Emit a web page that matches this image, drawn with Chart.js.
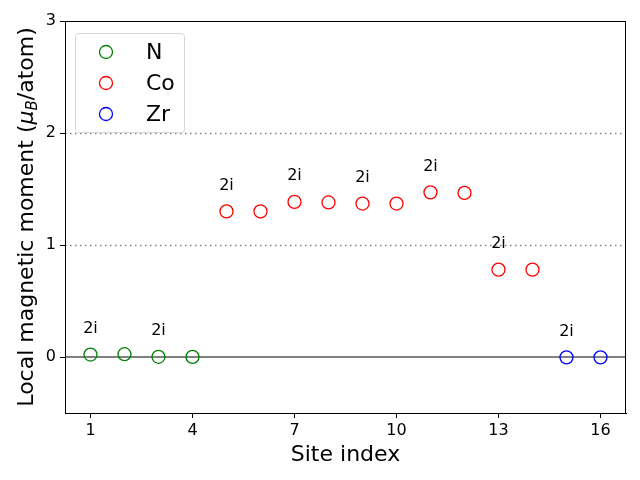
<!DOCTYPE html>
<html><head><meta charset="utf-8">
<script src="https://cdn.jsdelivr.net/npm/chart.js@4/dist/chart.umd.min.js"></script>
<style>html,body{margin:0;padding:0;background:#fff}canvas{display:block}</style>
</head><body>
<canvas id="c" width="640" height="480"></canvas>
<script>
// ---- data ----
const nSites = [1, 2, 3, 4];
const nMoments = [0.022, 0.025, 0.002, 0.001];
const coSites = [5, 6, 7, 8, 9, 10, 11, 12, 13, 14];
const coMoments = [1.30, 1.30, 1.385, 1.38, 1.37, 1.37, 1.47, 1.465, 0.78, 0.78];
const zrSites = [15, 16];
const zrMoments = [-0.003, -0.003];
const xTicks = [1, 4, 7, 10, 13, 16];
const yTicks = [0, 1, 2, 3];
const labelSites = [1, 3, 5, 7, 9, 11, 13, 15];
const labelText = '2i';
const dottedLines = [1, 2];
const solidLines = [0];

const FONT = '"DejaVu Sans", sans-serif';
const allSites = nSites.concat(coSites, zrSites);
const allMoments = nMoments.concat(coMoments, zrMoments);
const toPts = (xs, ys) => xs.map((x, i) => ({x: x, y: ys[i]}));

function ds(label, xs, ys, color) {
  return {label, data: toPts(xs, ys), borderColor: color, backgroundColor: 'rgba(0,0,0,0)',
    pointStyle: 'circle', pointRadius: 6.5, pointHoverRadius: 6.5, pointBorderWidth: 1.3, showLine: false};
}

const decor = {
  id: 'decor',
  beforeDatasetsDraw(chart) {
    const {ctx, chartArea: a, scales: {x, y}} = chart;
    ctx.save();
    ctx.strokeStyle = '#808080';
    ctx.lineWidth = 1.5;
    ctx.setLineDash([1.5, 3.5]);
    dottedLines.forEach(v => {
      const py = Math.round(y.getPixelForValue(v)) + 0.5;
      ctx.beginPath(); ctx.moveTo(a.left, py); ctx.lineTo(a.right, py); ctx.stroke();
    });
    ctx.setLineDash([]);
    ctx.lineWidth = 2;
    solidLines.forEach(v => {
      const py = y.getPixelForValue(v);
      ctx.beginPath(); ctx.moveTo(a.left, py); ctx.lineTo(a.right, py); ctx.stroke();
    });
    ctx.restore();
  },
  afterDraw(chart) {
    const {ctx, chartArea: a, scales: {x, y}} = chart;
    ctx.save();
    // frame
    ctx.strokeStyle = '#000'; ctx.lineWidth = 1;
    ctx.strokeRect(a.left + 0.5, a.top + 0.5, a.right - a.left - 1, a.bottom - a.top);
    // annotations
    ctx.fillStyle = '#000';
    ctx.font = '16px ' + FONT;
    ctx.textAlign = 'center'; ctx.textBaseline = 'middle';
    labelSites.forEach(s => {
      const v = allMoments[allSites.indexOf(s)];
      ctx.fillText(labelText, x.getPixelForValue(s), y.getPixelForValue(v + 0.23));
    });
    // x title
    ctx.font = '22px ' + FONT;
    ctx.textBaseline = 'alphabetic';
    ctx.fillText('Site index', (a.left + a.right) / 2, 461);
    // y title with subscript
    ctx.translate(33, (a.top + a.bottom) / 2);
    ctx.rotate(-Math.PI / 2);
    const parts = [
      {t: 'Local magnetic moment (', f: '22px ' + FONT, dy: 0},
      {t: 'μ', f: 'italic 22px ' + FONT, dy: 0},
      {t: 'B', f: 'italic 15px ' + FONT, dy: 4},
      {t: '/atom)', f: '22px ' + FONT, dy: 0}
    ];
    let total = 0;
    parts.forEach(p => { ctx.font = p.f; p.w = ctx.measureText(p.t).width; total += p.w; });
    let cx = -total / 2;
    ctx.textAlign = 'left';
    parts.forEach(p => { ctx.font = p.f; ctx.fillText(p.t, cx, p.dy); cx += p.w; });
    ctx.restore();
    // legend
    ctx.save();
    const lx = a.left + 10, ly = a.top + 12, lw = 109, lh = 99;
    ctx.fillStyle = 'rgba(255,255,255,0.8)';
    ctx.strokeStyle = '#d6d6d6'; ctx.lineWidth = 1;
    ctx.beginPath();
    ctx.roundRect(lx + 0.5, ly + 0.5, lw, lh, 3);
    ctx.fill(); ctx.stroke();
    ctx.font = '22px ' + FONT; ctx.textBaseline = 'middle'; ctx.textAlign = 'left';
    chart.data.datasets.forEach((d, i) => {
      const ry = ly + 19 + i * 31;
      ctx.strokeStyle = d.borderColor; ctx.lineWidth = 1.3;
      ctx.beginPath(); ctx.arc(lx + 31, ry, 6.5, 0, Math.PI * 2); ctx.stroke();
      ctx.fillStyle = '#000';
      ctx.fillText(d.label, lx + 71, ry + 1);
    });
    ctx.restore();
  }
};

new Chart(document.getElementById('c'), {
  type: 'scatter',
  data: {datasets: [
    ds('N', nSites, nMoments, '#008000'),
    ds('Co', coSites, coMoments, '#ff0000'),
    ds('Zr', zrSites, zrMoments, '#0000ff')
  ]},
  options: {
    responsive: false, animation: false, devicePixelRatio: 1,
    layout: {padding: {left: 0, top: 21, right: 14, bottom: 0}},
    plugins: {legend: {display: false}, tooltip: {enabled: false}},
    scales: {
      x: {
        type: 'linear', min: 0.25, max: 16.75,
        afterBuildTicks: s => { s.ticks = xTicks.map(v => ({value: v})); },
        afterFit: s => { s.height = 67; },
        grid: {drawOnChartArea: false, drawTicks: true, tickLength: 5, tickColor: '#000', tickWidth: 1},
        border: {display: true, color: '#000', width: 1},
        ticks: {color: '#000', font: {family: FONT, size: 16}, padding: 3, maxRotation: 0, autoSkip: false}
      },
      y: {
        type: 'linear', min: -0.5, max: 3,
        afterBuildTicks: s => { s.ticks = yTicks.map(v => ({value: v})); },
        afterFit: s => { s.width = 65; },
        grid: {drawOnChartArea: false, drawTicks: true, tickLength: 5, tickColor: '#000', tickWidth: 1},
        border: {display: true, color: '#000', width: 1},
        ticks: {color: '#000', font: {family: FONT, size: 16}, padding: 4, autoSkip: false}
      }
    }
  },
  plugins: [decor]
});
</script>
</body></html>
